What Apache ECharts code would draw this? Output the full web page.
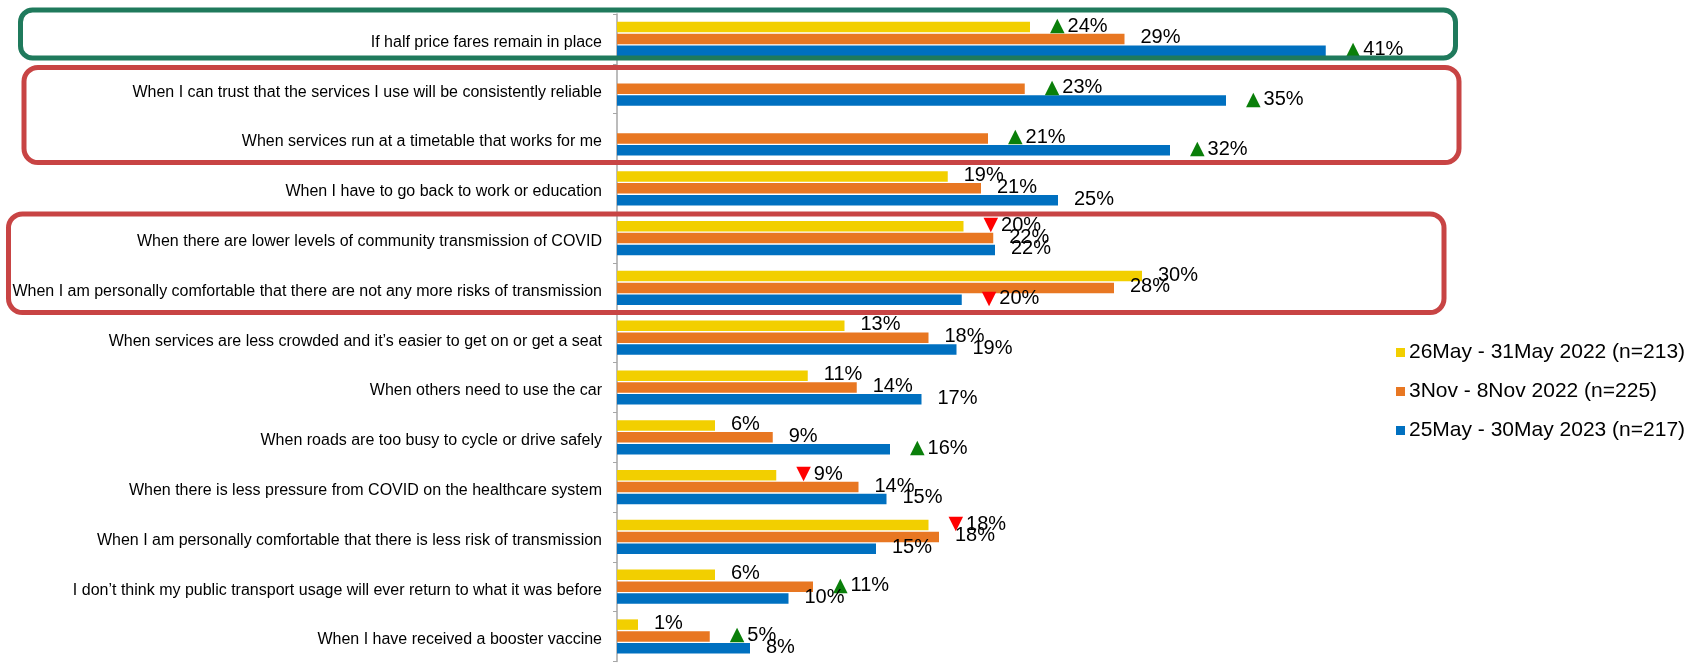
<!DOCTYPE html>
<html>
<head>
<meta charset="utf-8">
<script src="https://cdn.jsdelivr.net/npm/echarts@6/dist/echarts.min.js"></script>
<style>html,body{margin:0;padding:0;background:#fff}#c{width:1690px;height:664px}</style>
</head>
<body>
<div id="c"></div>
<script>
const categories = [
  "If half price fares remain in place",
  "When I can trust that the services I use will be consistently reliable",
  "When services run at a timetable that works for me",
  "When I have to go back to work or education",
  "When there are lower levels of community transmission of COVID",
  "When I am personally comfortable that there are not any more risks of transmission",
  "When services are less crowded and it\u2019s easier to get on or get a seat",
  "When others need to use the car",
  "When roads are too busy to cycle or drive safely",
  "When there is less pressure from COVID on the healthcare system",
  "When I am personally comfortable that there is less risk of transmission",
  "I don\u2019t think my public transport usage will ever return to what it was before",
  "When I have received a booster vaccine"
];
const seriesNames = ["26May - 31May 2022 (n=213)", "3Nov - 8Nov 2022 (n=225)", "25May - 30May 2023 (n=217)"];
const valuesMay22 = [23.6, null, null, 18.9, 19.8, 30.0, 13.0, 10.9, 5.6, 9.1, 17.8, 5.6, 1.2];
const valuesNov22 = [29.0, 23.3, 21.2, 20.8, 21.5, 28.4, 17.8, 13.7, 8.9, 13.8, 18.4, 11.2, 5.3];
const valuesMay23 = [40.5, 34.8, 31.6, 25.2, 21.6, 19.7, 19.4, 17.4, 15.6, 15.4, 14.8, 9.8, 7.6];
const labelsMay22 = [24, null, null, 19, 20, 30, 13, 11, 6, 9, 18, 6, 1];
const labelsNov22 = [29, 23, 21, 21, 22, 28, 18, 14, 9, 14, 18, 11, 5];
const labelsMay23 = [41, 35, 32, 25, 22, 20, 19, 17, 16, 15, 15, 10, 8];
const marksMay22 = ["up", "", "", "", "down", "", "", "", "", "down", "down", "", ""];
const marksNov22 = ["", "up", "up", "", "", "", "", "", "", "", "", "up", "up"];
const marksMay23 = ["up", "up", "up", "", "", "down", "", "", "up", "", "", "", ""];

const colors = ["#F2CF00", "#E87722", "#0070C0"];
const FONT = "'Liberation Sans', Arial, sans-serif";

function makeSeries(i, vals, labels, marks) {
  return {
    name: seriesNames[i],
    type: "bar",
    data: vals,
    barWidth: 10.5,
    barGap: "13%",
    itemStyle: { color: colors[i] },
    label: {
      show: true,
      position: "right",
      distance: 16,
      offset: [0, -1],
      color: "#000",
      fontFamily: FONT,
      fontSize: 20,
      formatter: function (p) {
        const l = labels[p.dataIndex];
        if (l == null) return "";
        const m = marks[p.dataIndex];
        const t = "{t|" + l + "%}";
        if (m === "up") return "{up|\u25B2}" + t;
        if (m === "down") return "{dn|\u25BC}" + t;
        return t;
      },
      rich: {
        t: { fontFamily: FONT, fontSize: 20, color: "#000" },
        up: { fontFamily: "'DejaVu Sans'", fontSize: 19, color: "#0A7F0A", padding: [0, 3, 0, 4] },
        dn: { fontFamily: "'DejaVu Sans'", fontSize: 19, color: "#FF0000", padding: [0, 3, 0, 4] }
      }
    }
  };
}

const chart = echarts.init(document.getElementById("c"), null, { renderer: "canvas" });
chart.setOption({
  animation: false,
  color: colors,
  textStyle: { fontFamily: FONT },
  grid: { left: 617, top: 14, width: 787.5, height: 647.4, containLabel: false },
  xAxis: {
    type: "value", min: 0, max: 45,
    show: false
  },
  yAxis: {
    type: "category",
    data: categories,
    inverse: true,
    axisLine: { show: true, lineStyle: { color: "#A6A6A6", width: 1.5 } },
    axisTick: { show: true, length: 4, lineStyle: { color: "#A6A6A6" } },
    axisLabel: {
      color: "#000", fontSize: 16, fontFamily: FONT, margin: 15,
      formatter: function (v) { return "{c|" + v + "}"; },
      rich: { c: { color: "#000", fontSize: 16, fontFamily: FONT, padding: [7, 0, 0, 0] } }
    }
  },
  legend: {
    orient: "vertical",
    left: 1391, top: 337,
    icon: "rect",
    itemWidth: 9, itemHeight: 9,
    itemGap: 18,
    textStyle: { color: "#000", fontSize: 21, fontFamily: FONT, lineHeight: 21, padding: [0, 0, 0, -1] },
    data: seriesNames
  },
  series: [
    makeSeries(0, valuesMay22, labelsMay22, marksMay22),
    makeSeries(1, valuesNov22, labelsNov22, marksNov22),
    makeSeries(2, valuesMay23, labelsMay23, marksMay23)
  ],
  graphic: [
    { type: "rect", z: 100, shape: { x: 20.5, y: 10, width: 1435, height: 48, r: 12 },
      style: { fill: "none", stroke: "#1F7A5C", lineWidth: 5 } },
    { type: "rect", z: 100, shape: { x: 24, y: 67.5, width: 1435, height: 95, r: 14 },
      style: { fill: "none", stroke: "#C84444", lineWidth: 5 } },
    { type: "rect", z: 100, shape: { x: 8.5, y: 214, width: 1435.5, height: 98.5, r: 14 },
      style: { fill: "none", stroke: "#C84444", lineWidth: 5 } }
  ]
});
</script>
</body>
</html>
